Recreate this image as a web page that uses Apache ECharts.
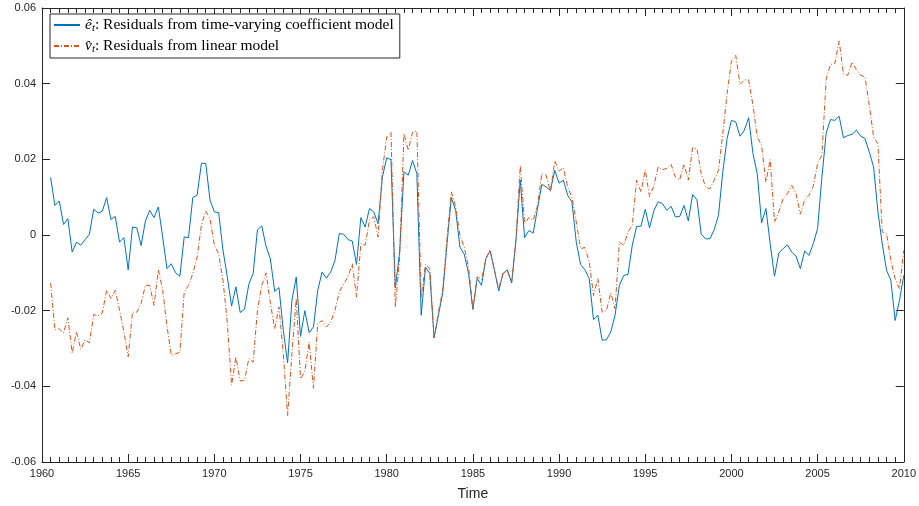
<!DOCTYPE html>
<html>
<head>
<meta charset="utf-8">
<script src="https://cdn.jsdelivr.net/npm/echarts@6/dist/echarts.min.js"></script>
<style>
  html, body { margin: 0; padding: 0; background: #fff; }
  #main { width: 919px; height: 506px; }
</style>
</head>
<body>
<div id="main"></div>
<script>
// quarterly residuals, first observation 1960.5, one value per quarter
const startYear = 1960.5;

const tvcResiduals = [
  0.0152, 0.0078, 0.0090, 0.0028, 0.0043, -0.0045, -0.0019, -0.0027, -0.0012, 0.0002,
  0.0068, 0.0058, 0.0063, 0.0099, 0.0041, 0.0049, -0.0019, -0.0007, -0.0092, 0.0021,
  0.0019, -0.0028, 0.0037, 0.0065, 0.0046, 0.0074, -0.0005, -0.0089, -0.0076, -0.0100,
  -0.0109, -0.0005, -0.0007, 0.0099, 0.0105, 0.0190, 0.0189, 0.0092, 0.0061, 0.0059,
  -0.0040, -0.0110, -0.0188, -0.0137, -0.0205, -0.0196, -0.0130, -0.0102, 0.0014, 0.0024,
  -0.0030, -0.0063, -0.0149, -0.0139, -0.0252, -0.0338, -0.0173, -0.0111, -0.0268, -0.0200,
  -0.0258, -0.0243, -0.0146, -0.0098, -0.0114, -0.0098, -0.0067, 0.0004, 0.0002, -0.0012,
  -0.0016, -0.0078, 0.0046, 0.0021, 0.0070, 0.0061, 0.0030, 0.0153, 0.0204, 0.0199,
  -0.0140, -0.0045, 0.0167, 0.0158, 0.0197, 0.0162, -0.0212, -0.0085, -0.0102, -0.0272,
  -0.0212, -0.0153, -0.0023, 0.0099, 0.0065, -0.0032, -0.0051, -0.0102, -0.0197, -0.0115,
  -0.0133, -0.0063, -0.0042, -0.0093, -0.0148, -0.0102, -0.0092, -0.0127, -0.0014, 0.0145,
  -0.0007, 0.0012, 0.0005, 0.0070, 0.0134, 0.0127, 0.0118, 0.0171, 0.0137, 0.0145,
  0.0105, 0.0087, -0.0019, -0.0078, -0.0092, -0.0115, -0.0224, -0.0212, -0.0278, -0.0277,
  -0.0256, -0.0212, -0.0133, -0.0107, -0.0104, -0.0027, 0.0023, 0.0023, 0.0068, 0.0019,
  0.0064, 0.0088, 0.0083, 0.0065, 0.0076, 0.0048, 0.0049, 0.0078, 0.0037, 0.0107,
  0.0093, 0.0002, -0.0010, -0.0010, 0.0014, 0.0052, 0.0167, 0.0255, 0.0303, 0.0299,
  0.0261, 0.0277, 0.0310, 0.0215, 0.0162, 0.0032, 0.0070, -0.0023, -0.0109, -0.0048,
  -0.0036, -0.0026, -0.0045, -0.0056, -0.0089, -0.0042, -0.0054, -0.0023, 0.0017, 0.0153,
  0.0270, 0.0305, 0.0303, 0.0314, 0.0257, 0.0263, 0.0266, 0.0277, 0.0261, 0.0255,
  0.0219, 0.0180, 0.0061, -0.0023, -0.0093, -0.0120, -0.0226, -0.0173, -0.0107
];

const linearResiduals = [
  -0.0127, -0.0250, -0.0248, -0.0259, -0.0219, -0.0312, -0.0256, -0.0302, -0.0277, -0.0285,
  -0.0210, -0.0214, -0.0206, -0.0146, -0.0168, -0.0146, -0.0199, -0.0255, -0.0322, -0.0204,
  -0.0204, -0.0181, -0.0133, -0.0133, -0.0186, -0.0092, -0.0146, -0.0240, -0.0318, -0.0314,
  -0.0310, -0.0151, -0.0133, -0.0102, -0.0058, 0.0026, 0.0063, 0.0043, -0.0027, -0.0050,
  -0.0120, -0.0230, -0.0397, -0.0322, -0.0386, -0.0384, -0.0327, -0.0336, -0.0199, -0.0133,
  -0.0100, -0.0180, -0.0248, -0.0190, -0.0314, -0.0477, -0.0314, -0.0168, -0.0380, -0.0361,
  -0.0283, -0.0405, -0.0234, -0.0226, -0.0243, -0.0230, -0.0199, -0.0151, -0.0129, -0.0111,
  -0.0076, -0.0164, -0.0023, -0.0027, 0.0039, 0.0048, -0.0005, 0.0171, 0.0259, 0.0272,
  -0.0190, -0.0060, 0.0268, 0.0224, 0.0272, 0.0275, -0.0164, -0.0078, -0.0089, -0.0272,
  -0.0205, -0.0145, -0.0010, 0.0114, 0.0074, -0.0001, -0.0032, -0.0085, -0.0195, -0.0110,
  -0.0118, -0.0063, -0.0039, -0.0093, -0.0142, -0.0100, -0.0095, -0.0124, -0.0010, 0.0184,
  0.0030, 0.0046, 0.0039, 0.0078, 0.0162, 0.0158, 0.0114, 0.0196, 0.0169, 0.0178,
  0.0127, 0.0099, 0.0034, -0.0036, -0.0033, -0.0071, -0.0160, -0.0115, -0.0204, -0.0199,
  -0.0153, -0.0195, -0.0019, -0.0027, 0.0008, 0.0026, 0.0145, 0.0114, 0.0172, 0.0102,
  0.0130, 0.0180, 0.0173, 0.0176, 0.0187, 0.0153, 0.0146, 0.0187, 0.0145, 0.0231,
  0.0228, 0.0162, 0.0127, 0.0122, 0.0145, 0.0171, 0.0268, 0.0374, 0.0460, 0.0475,
  0.0398, 0.0410, 0.0410, 0.0343, 0.0259, 0.0237, 0.0140, 0.0199, 0.0034, 0.0061,
  0.0096, 0.0109, 0.0131, 0.0109, 0.0055, 0.0093, 0.0105, 0.0129, 0.0189, 0.0211,
  0.0413, 0.0451, 0.0453, 0.0513, 0.0426, 0.0422, 0.0457, 0.0437, 0.0422, 0.0418,
  0.0343, 0.0259, 0.0241, 0.0008, 0.0004, -0.0067, -0.0115, -0.0142, -0.0041
];

const seriesNames = [
  '{i|ê}{s|t}: Residuals from time-varying coefficient model',
  '{i|v\u0302}{s|t}: Residuals from linear model'
];

// pair each value with its quarter
function toPoints(values) {
  let pts = [];
  for (let i = 0; i < values.length; i++) {
    pts.push([startYear + i / 4, values[i]]);
  }
  return pts;
}

var chartDom = document.getElementById('main');
var myChart = echarts.init(chartDom);
var option;

const axisColor = '#262626';
const labelFont = { color: axisColor, fontSize: 11, fontFamily: 'Liberation Sans, Arial, sans-serif' };

option = {
  animation: false,
  grid: { left: 42, right: 14, top: 8, bottom: 44 },
  legend: {
    orient: 'vertical',
    left: 50,
    top: 14,
    padding: [3, 6, 3, 3],
    itemGap: 4,
    itemWidth: 26,
    itemHeight: 12,
    backgroundColor: '#fff',
    borderColor: axisColor,
    borderWidth: 1,
    borderRadius: 0,
    itemStyle: { opacity: 0 },
    textStyle: {
      fontFamily: 'Liberation Serif, Times New Roman, serif',
      fontSize: 15.5,
      color: '#000',
      rich: {
        i: { fontFamily: 'Liberation Serif, serif', fontStyle: 'italic', fontSize: 15.5 },
        s: { fontFamily: 'Liberation Serif, serif', fontStyle: 'italic', fontSize: 11, verticalAlign: 'bottom', padding: [7, 0, 0, 0] }
      }
    },
    data: seriesNames
  },
  xAxis: [
    {
      type: 'value',
      min: 1960,
      max: 2010,
      interval: 5,
      name: 'Time',
      nameLocation: 'middle',
      nameGap: 25,
      nameTextStyle: { color: axisColor, fontSize: 14, fontFamily: 'Liberation Sans, Arial, sans-serif' },
      axisLine: { show: true, onZero: false, lineStyle: { color: axisColor, width: 1 } },
      axisTick: { show: true, inside: true, length: 8, lineStyle: { color: axisColor } },
      minorTick: { show: true, splitNumber: 10, length: 5, lineStyle: { color: axisColor } },
      axisLabel: Object.assign({ margin: 6, formatter: function (v) { return String(v); } }, labelFont),
      splitLine: { show: false }
    },
    {
      type: 'value',
      position: 'top',
      min: 1960,
      max: 2010,
      interval: 5,
      axisLine: { show: true, onZero: false, lineStyle: { color: axisColor, width: 1 } },
      axisTick: { show: true, inside: true, length: 8, lineStyle: { color: axisColor } },
      minorTick: { show: true, splitNumber: 10, length: 5, lineStyle: { color: axisColor } },
      axisLabel: { show: false },
      splitLine: { show: false }
    }
  ],
  yAxis: [
    {
      type: 'value',
      min: -0.06,
      max: 0.06,
      interval: 0.02,
      axisLine: { show: true, onZero: false, lineStyle: { color: axisColor, width: 1 } },
      axisTick: { show: true, inside: true, length: 8, lineStyle: { color: axisColor } },
      axisLabel: Object.assign({
        margin: 6,
        formatter: function (v) { return Math.abs(v) < 1e-9 ? '0' : String(+v.toFixed(2)); }
      }, labelFont),
      splitLine: { show: false }
    },
    {
      type: 'value',
      position: 'right',
      min: -0.06,
      max: 0.06,
      interval: 0.02,
      axisLine: { show: true, onZero: false, lineStyle: { color: axisColor, width: 1 } },
      axisTick: { show: true, inside: true, length: 8, lineStyle: { color: axisColor } },
      axisLabel: { show: false },
      splitLine: { show: false }
    }
  ],
  series: [
    {
      name: seriesNames[0],
      type: 'line',
      xAxisIndex: 0,
      yAxisIndex: 0,
      symbol: 'none',
      color: '#0072BD',
      lineStyle: { width: 1, color: '#0072BD' },
      data: toPoints(tvcResiduals)
    },
    {
      name: seriesNames[1],
      type: 'line',
      xAxisIndex: 0,
      yAxisIndex: 0,
      symbol: 'none',
      color: '#D95319',
      lineStyle: { width: 1, color: '#D95319', type: [5, 2, 1, 2] },
      data: toPoints(linearResiduals)
    }
  ]
};

option && myChart.setOption(option);
</script>
</body>
</html>
